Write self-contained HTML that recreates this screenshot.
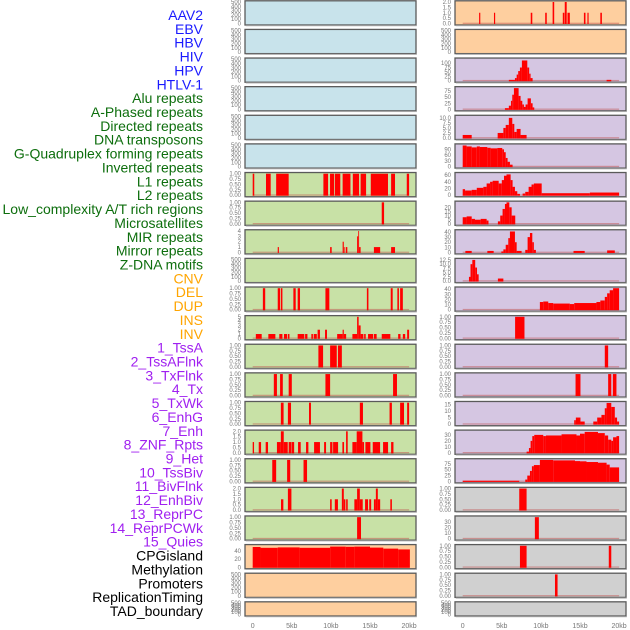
<!DOCTYPE html>
<html><head><meta charset="utf-8"><style>
html,body{margin:0;padding:0;background:#fff;width:630px;height:630px;overflow:hidden}
svg{display:block;font-family:"Liberation Sans",sans-serif}
</style></head><body>
<svg id="chart" width="630" height="630"></svg>
<script>
// Row labels
const labelTexts = ["AAV2","EBV","HBV","HIV","HPV","HTLV-1","Alu repeats","A-Phased repeats","Directed repeats","DNA transposons","G-Quadruplex forming repeats","Inverted repeats","L1 repeats","L2 repeats","Low_complexity A/T rich regions","Microsatellites","MIR repeats","Mirror repeats","Z-DNA motifs","CNV","DEL","DUP","INS","INV","1_TssA","2_TssAFlnk","3_TxFlnk","4_Tx","5_TxWk","6_EnhG","7_Enh","8_ZNF_Rpts","9_Het","10_TssBiv","11_BivFlnk","12_EnhBiv","13_ReprPC","14_ReprPCWk","15_Quies","CPGisland","Methylation","Promoters","ReplicationTiming","TAD_boundary"];
const labelColors = ["#1a1aff","#1a1aff","#1a1aff","#1a1aff","#1a1aff","#1a1aff","#0d6e0d","#0d6e0d","#0d6e0d","#0d6e0d","#0d6e0d","#0d6e0d","#0d6e0d","#0d6e0d","#0d6e0d","#0d6e0d","#0d6e0d","#0d6e0d","#0d6e0d","#ffa500","#ffa500","#ffa500","#ffa500","#ffa500","#a020f0","#a020f0","#a020f0","#a020f0","#a020f0","#a020f0","#a020f0","#a020f0","#a020f0","#a020f0","#a020f0","#a020f0","#a020f0","#a020f0","#a020f0","#000","#000","#000","#000","#000"];

// Tick label sets
const T500 = ["0","100","200","300","400","500"];
const T1 = ["0.00","0.25","0.50","0.75","1.00"];
const T2 = ["0.0","0.5","1.0","1.5","2.0"];
const xTicks = [0,5,10,15,20];
const xTickLabels = ["0","5kb","10kb","15kb","20kb"];

// Left column bar data: [startKb, endKb, value]
const L6 = [[0,0.2,1],[1.7,2.3,1],[3.0,4.6,1],[9.04,9.64,1],[9.89,10.4,1],[10.5,11.2,1],[11.5,12.5,1],[12.8,13.6,1],[13.8,14.5,1],[15.1,17.3,1],[17.7,18.2,1],[19.7,20.0,1]];
const L7 = [[16.5,16.8,1]];
const L8 = [[3.2,3.35,1],[9.9,10.1,1],[11.5,11.65,2],[11.65,11.75,1],[11.9,12.1,1],[13.35,13.5,3],[13.5,13.6,4],[13.6,13.8,1],[15.5,16.3,1],[17.7,18.2,1]];
const L10 = [[1.3,1.6,1],[3.2,3.5,1],[3.6,3.8,1],[5.2,5.5,1],[5.75,6.05,1],[9.3,9.8,1],[14.6,14.8,1],[17.65,17.9,1],[18.5,18.7,1],[18.85,19.2,1]];
const L11 = [[0.4,1.15,1],[2.0,2.9,1],[3.4,3.8,1],[4.0,4.4,1],[4.5,4.7,1],[5.75,6.6,1],[6.7,7.0,1],[7.5,7.7,1],[7.8,8.2,1],[8.3,8.6,2],[9.25,9.5,2],[10.8,11.5,1],[11.5,11.65,2],[11.65,11.95,1],[12.75,13.35,1],[13.35,13.55,5],[13.55,13.8,3],[13.8,14.15,1],[14.25,14.45,1],[14.75,15.4,1],[15.5,15.85,1],[16.5,17.6,1],[18.6,18.9,1],[19.2,19.5,1],[19.75,20.0,2]];
const L12 = [[8.4,9.0,1],[9.9,10.75,1],[10.9,11.4,1]];
const L13 = [[2.7,3.1,1],[3.5,3.85,1],[4.6,5.0,1],[9.3,9.9,1],[17.95,18.45,1]];
const L14 = [[3.6,3.95,1],[4.5,4.9,1],[7.2,7.45,1],[13.7,14.1,1],[17.5,17.8,1],[18.85,19.35,1],[19.75,20.0,1]];
const L15 = [[0,0.17,1],[0.77,1.07,1],[1.66,1.96,1],[3.1,3.6,1],[3.6,3.97,2],[3.97,4.48,1],[4.6,4.95,1],[5.0,5.3,1],[5.8,6.14,1],[6.82,7.12,1],[7.85,8.6,1],[9.13,9.38,1],[9.9,10.2,1],[10.28,10.92,1],[11.47,11.68,1],[11.94,12.15,2],[12.75,13.3,1],[13.3,14.03,2],[14.03,14.24,1],[14.41,15.05,1],[15.35,16.29,1],[16.67,17.31,1],[17.7,18.0,1]];
const L16 = [[2.5,3.0,1],[4.4,4.8,1],[6.5,6.95,1]];
const L17 = [[3.62,3.92,1],[4.5,4.95,2],[9.9,10.1,1],[10.5,10.9,1],[11.4,11.65,2],[11.65,11.85,1],[11.95,12.15,1],[13.0,13.35,1],[13.35,13.7,2],[13.7,14.07,1],[14.37,14.75,1],[14.9,15.15,1],[15.5,15.75,1],[15.75,16.0,2],[16.0,16.3,1],[17.6,17.8,1]];
const L18 = [[13.35,13.85,1]];
const L19 = [[0,1.0,50],[1.0,3.2,48],[3.2,6.0,49],[6.0,9.9,48],[9.9,11.9,51],[11.9,13.0,50.5],[13.0,15.0,51],[15.0,16.7,48.5],[16.7,18.6,46],[18.6,20.1,44]];

// Right column bar data
const R0 = [[2.1,2.25,1],[4.0,4.15,1],[8.7,8.9,1],[10.55,10.75,1],[11.5,11.7,2],[12.8,13.0,1],[13.05,13.3,2],[13.4,13.7,1],[15.5,15.7,1],[15.95,16.1,1],[17.6,17.8,1]];
const R2 = [[5.9,6.68,5],[6.68,6.9,15],[6.9,7.1,35],[7.1,7.32,55],[7.32,7.57,75],[7.57,8.26,115],[8.26,8.5,75],[8.5,8.68,40],[8.68,8.94,15],[18.4,19.0,5]];
const R3 = [[5.4,5.9,5],[5.9,6.17,15],[6.17,6.34,35],[6.34,6.55,60],[6.55,7.15,87],[7.15,7.4,55],[7.4,7.62,35],[7.62,7.83,20],[7.83,8.04,10],[8.04,8.3,20],[8.3,8.72,45],[8.72,8.94,25],[8.94,9.15,8]];
const R4 = [[0,1.15,1.5],[4.47,5.2,2.5],[5.2,5.5,5],[5.5,5.9,6.5],[5.9,6.34,10],[6.34,6.6,7],[6.6,6.9,3],[6.9,7.4,4.5],[7.4,8.17,1.5]];
const R5 = [[0,0.5,110],[0.5,1.15,105],[1.15,1.8,100],[1.8,2.2,105],[2.2,3.15,102],[3.15,3.57,98],[3.57,4.43,95],[4.43,5.06,97],[5.06,5.28,90],[5.28,5.5,75],[5.5,5.74,45],[5.74,6.04,25],[6.04,6.38,10]];
const R6 = [[0,0.3,18],[0.3,1.15,14],[1.15,1.8,16],[1.8,2.64,22],[2.64,3.06,25],[3.06,3.5,35],[3.5,3.83,40],[3.83,4.6,43],[4.6,5.0,35],[5.0,5.28,45],[5.28,5.6,58],[5.6,6.13,62],[6.13,6.38,45],[6.38,6.68,25],[6.68,6.98,12],[6.98,7.32,4],[7.66,8.0,5],[8.0,8.43,10],[8.43,8.8,25],[8.8,9.1,32],[9.1,10.1,35],[10.1,16.26,6],[16.26,20.0,8]];
const R7 = [[0,0.5,8],[0.5,1.15,9],[1.15,1.57,6],[1.57,2.3,5],[2.3,3.06,6],[3.06,3.3,4],[4.5,4.8,3],[4.8,5.1,10],[5.1,5.4,18],[5.4,5.6,24],[5.6,5.96,26],[5.96,6.26,20],[6.26,6.72,10]];
const R8 = [[0.34,1.15,3],[3.15,3.96,3],[4.94,5.2,2],[5.2,5.5,6],[5.5,5.83,15],[5.83,6.04,28],[6.04,6.68,41],[6.68,6.9,20],[6.9,7.53,3],[8.0,8.3,5],[8.3,8.6,30],[8.6,8.9,38],[8.9,9.1,20],[9.1,9.36,5],[14.17,15.6,3],[18.47,19.45,4]];
const R9 = [[0.8,1.0,2.5],[1.0,1.23,10],[1.23,1.6,12.5],[1.6,1.83,8],[1.83,2.04,4],[4.5,5.2,1.5]];
const R10 = [[9.87,10.3,15],[10.3,10.94,16],[10.94,11.57,13],[11.57,13.7,12],[13.7,14.26,11],[14.26,17.1,13],[17.1,17.6,15],[17.6,18.17,18],[18.17,18.47,25],[18.47,18.8,32],[18.8,19.23,38],[19.23,20.0,42]];
const R11 = [[6.7,7.9,1]];
const R12 = [[18.17,18.6,1]];
const R13 = [[14.43,15.06,1],[18.6,19.0,1],[19.2,19.66,1]];
const R14 = [[14.26,14.47,3],[14.47,15.06,5],[15.06,15.6,2],[16.7,17.2,2],[17.2,17.74,5],[17.74,18.17,7],[18.17,18.4,12],[18.4,19.0,16],[19.0,19.45,13],[19.45,19.74,5],[19.74,20.0,2]];
const R15 = [[8.17,8.47,2],[8.47,8.68,8],[8.68,8.9,20],[8.9,9.15,28],[9.15,10.3,30],[10.3,10.64,28],[10.64,12.64,29],[12.64,14.55,31],[14.55,15.0,29],[15.0,15.6,32],[15.6,17.3,35],[17.3,18.17,33],[18.17,18.6,29],[18.6,19.0,22],[19.0,19.23,20],[19.23,19.66,26],[19.66,20.0,28]];
const R16 = [[0,7.23,3],[8.0,8.26,8],[8.26,8.6,25],[8.6,8.85,45],[8.85,9.1,65],[9.1,9.87,70],[9.87,11.57,92],[11.57,14.36,90],[14.36,15.0,87],[15.0,15.83,86],[15.83,17.3,83],[17.3,18.4,80],[18.4,18.8,72],[18.8,20.0,60]];
const R17 = [[7.23,8.17,1]];
const R18 = [[9.23,9.74,39]];
const R19 = [[7.32,8.17,1],[18.68,19.0,1]];
const R20 = [[11.8,12.13,1]];

const BG = {blue:"#c8e3eb",green:"#c8e1a6",orange:"#fecf9f",purple:"#d5c6e2",grey:"#d0d0d0"};

// Panel layout: [bg, data, ticks, ymax]
const leftPanels = [
 ["blue",[],T500,500],["blue",[],T500,500],["blue",[],T500,500],["blue",[],T500,500],["blue",[],T500,500],["blue",[],T500,500],
 ["green",L6,T1,1],["green",L7,T1,1],["green",L8,["0","1","2","3","4"],4],["green",[],T500,500],["green",L10,T1,1],
 ["green",L11,["0","1","2","3","4","5"],5],["green",L12,T1,1],["green",L13,T1,1],["green",L14,T1,1],["green",L15,T2,2],
 ["green",L16,T1,1],["green",L17,T2,2],["green",L18,T1,1],["orange",L19,["0","20","40"],53],["orange",[],T500,500],["orange",[],T500,500]
];
const rightPanels = [
 ["orange",R0,T2,2],["orange",[],T500,500],["purple",R2,["0","25","50","75","100"],122],["purple",R3,["0","25","50","75"],88],
 ["purple",R4,["0.0","2.5","5.0","7.5","10.0"],10.7],["purple",R5,["0","30","60","90"],112],["purple",R6,["0","20","40","60"],64],
 ["purple",R7,["0","5","10","15","20"],26],["purple",R8,["0","10","20","30","40"],42],["purple",R9,["0.0","2.5","5.0","7.5","10.0","12.5"],12.7],
 ["purple",R10,["0","10","20","30","40"],42],["purple",R11,T1,1],["purple",R12,T1,1],["purple",R13,T1,1],
 ["purple",R14,["0","5","10","15"],16.2],["purple",R15,["0","10","20","30"],36],["purple",R16,["0","25","50","75"],92],
 ["grey",R17,T1,1],["grey",R18,["0","10","20","30"],39],["grey",R19,T1,1],["grey",R20,T1,1],["grey",[],T500,500]
];

const NS = "http://www.w3.org/2000/svg";
const svg = document.getElementById("chart");
function mk(tag, attrs, parent){const e=document.createElementNS(NS,tag);for(const k in attrs)e.setAttribute(k,attrs[k]);(parent||svg).appendChild(e);return e;}

// labels
labelTexts.forEach((t,i)=>{
  const e = mk("text",{x:203,y:20+i*13.86,"text-anchor":"end","font-size":"14",fill:labelColors[i]});
  e.textContent = t;
  
  
});

function drawColumn(panels, px, colName){
  const pw = 171;
  const x0 = px + 7.7, kbW = 7.82;
  const xs = kb => x0 + kb*kbW;
  panels.forEach((p,i)=>{
    const top = i*28.62;
    const h = (i===21)?15:25;
    const g = mk("g",{});
    
    
    mk("rect",{x:px,y:top+0.8,width:pw,height:h-0.8,fill:BG[p[0]],stroke:"#5a5a5a","stroke-width":1.3},g);
    mk("rect",{x:px+0.8,y:top+h+0.2,width:pw,height:1,fill:"#aaa"},g);
    const base = top+h-1.5, ytop = top+2;
    const ys = v => base - (v/p[3])*(base-ytop);
    if (p[1].length) {
      mk("rect",{x:xs(0),y:base-0.8,width:xs(20)-xs(0),height:1.2,fill:"#c0504d",opacity:0.5},g);
    }
    p[1].forEach(b=>{
      const r = mk("rect",{x:xs(b[0]),y:ys(b[2]),width:Math.max(0.8,xs(b[1])-xs(b[0])),height:base-ys(b[2])+0.5,fill:"#ff0000"},g);
      
      
    });
    p[2].forEach(t=>{
      const v = parseFloat(t);
      const e = mk("text",{x:px-4,y:ys(v)+2,"text-anchor":"end","font-size":"6",fill:"#777"},g);
      e.textContent = t;
      
      
    });
  });
  xTicks.forEach((k,j)=>{
    const e = mk("text",{x:xs(k),y:628,"text-anchor":"middle","font-size":"7",fill:"#777"});
    e.textContent = xTickLabels[j];
    
    
  });
}
drawColumn(leftPanels, 245, "left");
drawColumn(rightPanels, 455, "right");
</script>
</body></html>
